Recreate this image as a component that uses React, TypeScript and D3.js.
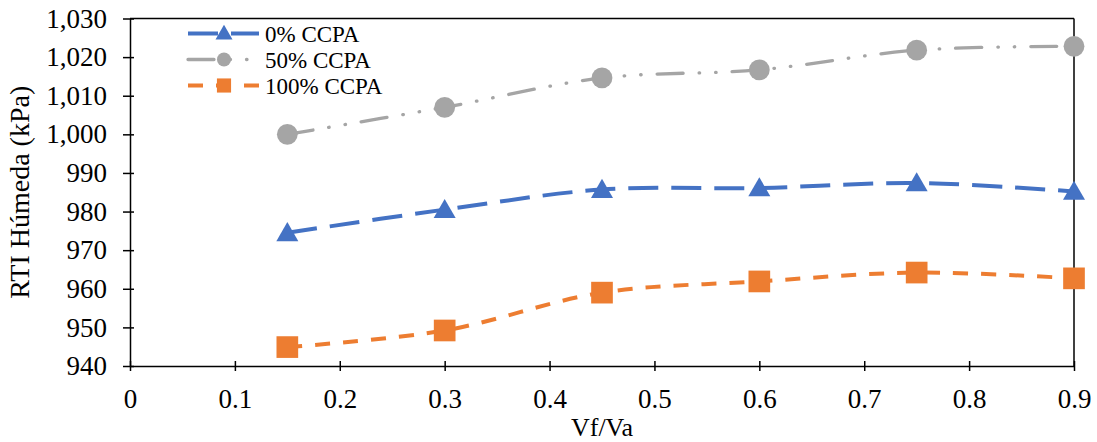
import React from "react";
import * as d3 from "d3";
import { useEffect, useRef } from "react";

const ratios = [0.15, 0.3, 0.45, 0.6, 0.75, 0.9];
const ccpa0 = [974.5, 980.5, 985.7, 986.1, 987.4, 985.2];
const ccpa50 = [1000, 1007.0, 1014.6, 1016.7, 1021.8, 1022.8];
const ccpa100 = [944.9, 949.2, 959.0, 961.9, 964.2, 962.7];
const seriesNames = ["0% CCPA", "50% CCPA", "100% CCPA"];
const xTicks = [0, 0.1, 0.2, 0.3, 0.4, 0.5, 0.6, 0.7, 0.8, 0.9];
const yTicks = [940, 950, 960, 970, 980, 990, 1000, 1010, 1020, 1030];

function App() {
  const canvas = useRef<HTMLDivElement>(null);

  const drawChart = () => {
    const width = 1097;
    const height = 442;
    const font = "'Liberation Serif', 'Times New Roman', serif";

    d3.select(canvas.current).selectAll("*").remove();
    const svg = d3
      .select(canvas.current)
      .append("svg")
      .attr("width", width)
      .attr("height", height)
      .style("display", "block")
      .style("background", "#fff")
      .style("font-family", font);

    const x = d3.scaleLinear().domain([0, 0.9]).range([130, 1074]);
    const y = d3.scaleLinear().domain([940, 1030]).range([366, 18.5]);

    // frame top/right
    svg.append("line")
      .attr("x1", x(0)).attr("x2", x(0.9))
      .attr("y1", y(1030)).attr("y2", y(1030))
      .attr("stroke", "#000").attr("stroke-width", 1.5);
    svg.append("line")
      .attr("x1", x(0.9)).attr("x2", x(0.9))
      .attr("y1", y(1030)).attr("y2", y(940))
      .attr("stroke", "#000").attr("stroke-width", 1.5);

    // axes
    const xAxis = svg.append("g")
      .attr("transform", `translate(0, ${y(940)})`)
      .call(d3.axisBottom(x).tickValues(xTicks).tickFormat(d3.format("")).tickSizeInner(5).tickSizeOuter(0).tickPadding(18));
    xAxis.selectAll(".tick line").attr("y1", -5).attr("y2", 5);

    const yAxis = svg.append("g")
      .attr("transform", `translate(${x(0)}, 0)`)
      .call(d3.axisLeft(y).tickValues(yTicks).tickFormat(d3.format(",")).tickSizeInner(7).tickSizeOuter(0).tickPadding(16));
    yAxis.selectAll(".tick line").attr("x1", -7).attr("x2", 4);

    xAxis.attr("font-family", null);
    yAxis.attr("font-family", null);
    svg.selectAll(".domain").attr("stroke", "#000").attr("stroke-width", 1.5);
    svg.selectAll(".tick line").attr("stroke", "#000").attr("stroke-width", 1.5);
    svg.selectAll(".tick text")
      .style("font-family", font)
      .style("font-size", "27px")
      .attr("fill", "#000");

    svg.append("text")
      .attr("x", (x(0) + x(0.9)) / 2)
      .attr("y", 436)
      .attr("text-anchor", "middle")
      .style("font-size", "26px")
      .text("Vf/Va");

    svg.append("text")
      .attr("transform", `translate(29, ${(y(940) + y(1030)) / 2}) rotate(-90)`)
      .attr("text-anchor", "middle")
      .style("font-size", "28px")
      .text("RTI Húmeda (kPa)");

    const series = [
      { name: seriesNames[0], values: ccpa0, color: "#4472C4", dash: "30,13", width: 4, cap: "butt", marker: "triangle" },
      { name: seriesNames[1], values: ccpa50, color: "#A5A5A5", dash: "26,16,0.5,16,0.5,16", width: 3.3, cap: "round", marker: "circle" },
      { name: seriesNames[2], values: ccpa100, color: "#ED7D31", dash: "15,13", width: 4, cap: "butt", marker: "square" },
    ];

    const line = d3
      .line<[number, number]>()
      .x((d) => x(d[0]))
      .y((d) => y(d[1]))
      .curve(d3.curveCatmullRom.alpha(0.5));

    const symbolFor = (m: string, size: number) => {
      if (m === "triangle") return d3.symbol().type(d3.symbolTriangle).size(size)();
      if (m === "circle") return d3.symbol().type(d3.symbolCircle).size(size)();
      return d3.symbol().type(d3.symbolSquare).size(size)();
    };
    const plotSize: { [k: string]: number } = { triangle: 210, circle: 340, square: 470 };
    const legSize: { [k: string]: number } = { triangle: 125, circle: 155, square: 200 };

    const g = svg.append("g");
    series.forEach((s) => {
      const pts = ratios.map((r, i) => [r, s.values[i]] as [number, number]);
      g.append("path")
        .attr("d", line(pts))
        .attr("fill", "none")
        .attr("stroke", s.color)
        .attr("stroke-width", s.width)
        .attr("stroke-dasharray", s.dash)
        .attr("stroke-linecap", s.cap);
      g.selectAll(null)
        .data(pts)
        .enter()
        .append("path")
        .attr("d", symbolFor(s.marker, plotSize[s.marker]))
        .attr("transform", (d) => `translate(${x(d[0])}, ${y(d[1]) + (s.marker === "triangle" ? 2 : 0)})`)
        .attr("fill", s.color);
    });

    // legend
    const legend = svg.append("g");
    series.forEach((s, i) => {
      const ly = 33.5 + i * 26;
      legend.append("line")
        .attr("x1", 188).attr("x2", 259)
        .attr("y1", ly).attr("y2", ly)
        .attr("stroke", s.color)
        .attr("stroke-width", s.width)
        .attr("stroke-dasharray", s.dash)
        .attr("stroke-linecap", s.cap);
      legend.append("path")
        .attr("d", symbolFor(s.marker, legSize[s.marker]))
        .attr("transform", `translate(224, ${ly + (s.marker === "triangle" ? 1 : 0)})`)
        .attr("fill", s.color);
      legend.append("text")
        .attr("x", 265)
        .attr("y", ly + 8)
        .style("font-size", "23px")
        .text(s.name);
    });
  };

  useEffect(() => {
    drawChart();
  });

  return (
    <div style={{ position: "absolute", left: 0, top: 0 }}>
      <div ref={canvas}></div>
    </div>
  );
}

export default App;
